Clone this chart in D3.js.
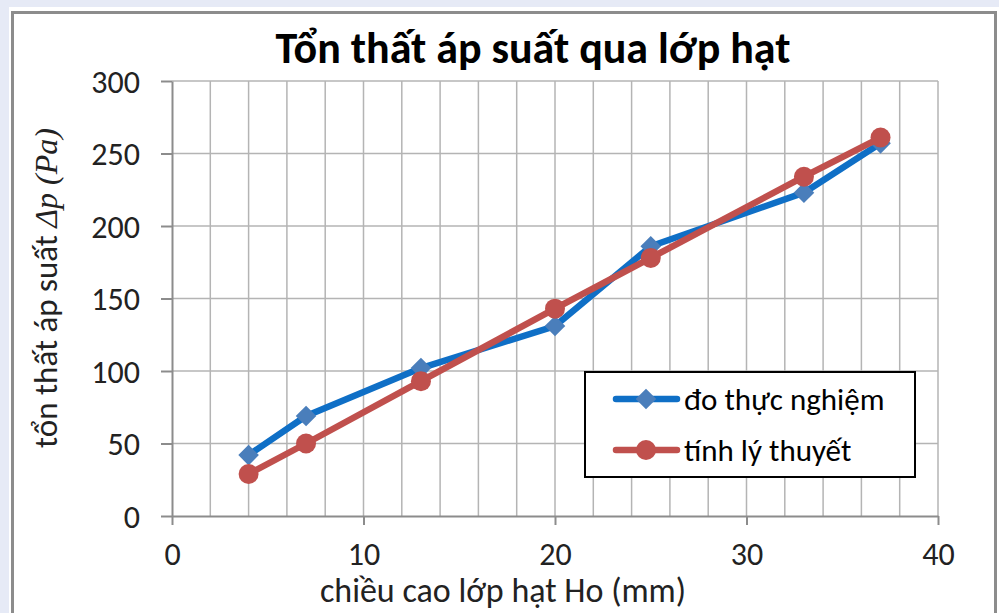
<!DOCTYPE html>
<html>
<head>
<meta charset="utf-8">
<script src="https://cdn.jsdelivr.net/npm/d3@7"></script>
<style>
  html, body { margin: 0; padding: 0; background: #e6eaf6; }
  svg { display: block; }
</style>
</head>
<body>
<svg id="chart" width="999" height="613"></svg>
<script>
// Pressure loss through the particle bed vs. bed height
const heights = [4, 7, 13, 20, 25, 33, 37];
const measured = [42, 69, 102, 131, 186, 223, 257];
const theoretical = [29, 50, 93, 143, 178, 234, 261];
const seriesNames = ["đo thực nghiệm", "tính lý thuyết"];
const xTicks = [0, 10, 20, 30, 40];
const yTicks = [0, 50, 100, 150, 200, 250, 300];

const titleText = "Tổn thất áp suất qua lớp hạt";
const xLabel = "chiều cao lớp hạt Ho (mm)";

const FONT = "Carlito, Lato, 'Open Sans', sans-serif";
const BLUE_LINE = "#0f6fc6", BLUE_MARK = "#4a7ebb";
const RED_LINE = "#c0504d", RED_MARK = "#c0504d";
const LINE_W = 6.5;

const svg = d3.select("#chart");

// chart frame
svg.append("rect").attr("x", 9).attr("y", 7).attr("width", 990).attr("height", 606).attr("fill", "#fff");
svg.append("rect").attr("x", 12.5).attr("y", 12.5).attr("width", 983).attr("height", 620)
  .attr("fill", "#fff").attr("stroke", "#8c8c8c").attr("stroke-width", 3);

const x = d3.scaleLinear().domain([0, 40]).range([172, 938]);
const y = d3.scaleLinear().domain([0, 300]).range([516, 81]);

const g = svg.append("g");

// vertical minor gridlines every 2 mm
g.selectAll("line.vgrid").data(d3.range(2, 41, 2)).join("line")
  .attr("class", "vgrid")
  .attr("x1", d => x(d)).attr("x2", d => x(d))
  .attr("y1", y(300)).attr("y2", y(0))
  .attr("stroke", "#b4b4b4").attr("stroke-width", 1.5);

// horizontal gridlines
g.selectAll("line.hgrid").data(yTicks.slice(1)).join("line")
  .attr("class", "hgrid")
  .attr("x1", x(0)).attr("x2", x(40))
  .attr("y1", d => y(d)).attr("y2", d => y(d))
  .attr("stroke", "#b4b4b4").attr("stroke-width", 1.5);

// axes
const xAxis = g.append("g").attr("transform", `translate(0,${y(0)})`)
  .call(d3.axisBottom(x).tickValues(xTicks).tickSize(9).tickPadding(17).tickSizeOuter(0));
const yAxis = g.append("g").attr("transform", `translate(${x(0)},0)`)
  .call(d3.axisLeft(y).tickValues(yTicks).tickSize(11).tickPadding(21).tickSizeOuter(0));
[xAxis, yAxis].forEach(a => {
  a.select(".domain").attr("stroke", "#8c8c8c").attr("stroke-width", 2);
  a.selectAll(".tick line").attr("stroke", "#8c8c8c").attr("stroke-width", 2);
  a.selectAll(".tick text").attr("fill", "#222").style("font-family", FONT).style("font-size", "32px");
});
yAxis.selectAll(".tick text").attr("dy", "0.35em");

// series
const line = d3.line().x(d => x(d[0])).y(d => y(d[1]));
const blueData = heights.map((h, i) => [h, measured[i]]);
const redData = heights.map((h, i) => [h, theoretical[i]]);
const diamond = d3.symbol().type(d3.symbolDiamond2).size(270);

g.append("path").datum(blueData).attr("d", line)
  .attr("fill", "none").attr("stroke", BLUE_LINE).attr("stroke-width", LINE_W).attr("stroke-linejoin", "round");
g.selectAll("path.diamond").data(blueData).join("path")
  .attr("class", "diamond")
  .attr("d", diamond)
  .attr("transform", d => `translate(${x(d[0])},${y(d[1])})`)
  .attr("fill", BLUE_MARK);

g.append("path").datum(redData).attr("d", line)
  .attr("fill", "none").attr("stroke", RED_LINE).attr("stroke-width", LINE_W).attr("stroke-linejoin", "round");
g.selectAll("circle.dot").data(redData).join("circle")
  .attr("class", "dot")
  .attr("cx", d => x(d[0])).attr("cy", d => y(d[1])).attr("r", 10)
  .attr("fill", RED_MARK);

// title
svg.append("text").attr("x", 533).attr("y", 63).attr("text-anchor", "middle")
  .style("font-family", FONT).style("font-size", "44px").style("font-weight", "bold").attr("fill", "#000")
  .text(titleText);

// x axis label
svg.append("text").attr("x", 503).attr("y", 602).attr("text-anchor", "middle")
  .style("font-family", FONT).style("font-size", "34px").attr("fill", "#222")
  .text(xLabel);

// y axis label with italic math part
const yl = svg.append("text").attr("transform", "translate(57,288) rotate(-90)").attr("text-anchor", "middle")
  .style("font-family", FONT).style("font-size", "33px").attr("fill", "#222");
yl.append("tspan").text("tổn thất áp suất ");
yl.append("tspan").style("font-family", "'Liberation Serif', 'DejaVu Serif', serif").style("font-style", "italic")
  .style("font-size", "32px").text("Δp (Pa)");

// legend
const lg = svg.append("g");
lg.append("rect").attr("x", 585).attr("y", 372).attr("width", 330).attr("height", 105)
  .attr("fill", "#fff").attr("stroke", "#000").attr("stroke-width", 2);
const legendRows = [
  { name: seriesNames[0], lineColor: BLUE_LINE, mark: "diamond", color: BLUE_MARK, cy: 399 },
  { name: seriesNames[1], lineColor: RED_LINE, mark: "circle", color: RED_MARK, cy: 450 }
];
legendRows.forEach(r => {
  lg.append("line").attr("x1", 616).attr("x2", 677).attr("y1", r.cy).attr("y2", r.cy)
    .attr("stroke", r.lineColor).attr("stroke-width", LINE_W).attr("stroke-linecap", "round");
  if (r.mark === "diamond") {
    lg.append("path").attr("d", diamond)
      .attr("transform", `translate(646,${r.cy})`).attr("fill", r.color);
  } else {
    lg.append("circle").attr("cx", 646).attr("cy", r.cy).attr("r", 10).attr("fill", r.color);
  }
  lg.append("text").attr("x", 684).attr("y", r.cy).attr("dy", "0.35em")
    .style("font-family", FONT).style("font-size", "31px").attr("fill", "#000").text(r.name);
});
</script>
</body>
</html>
